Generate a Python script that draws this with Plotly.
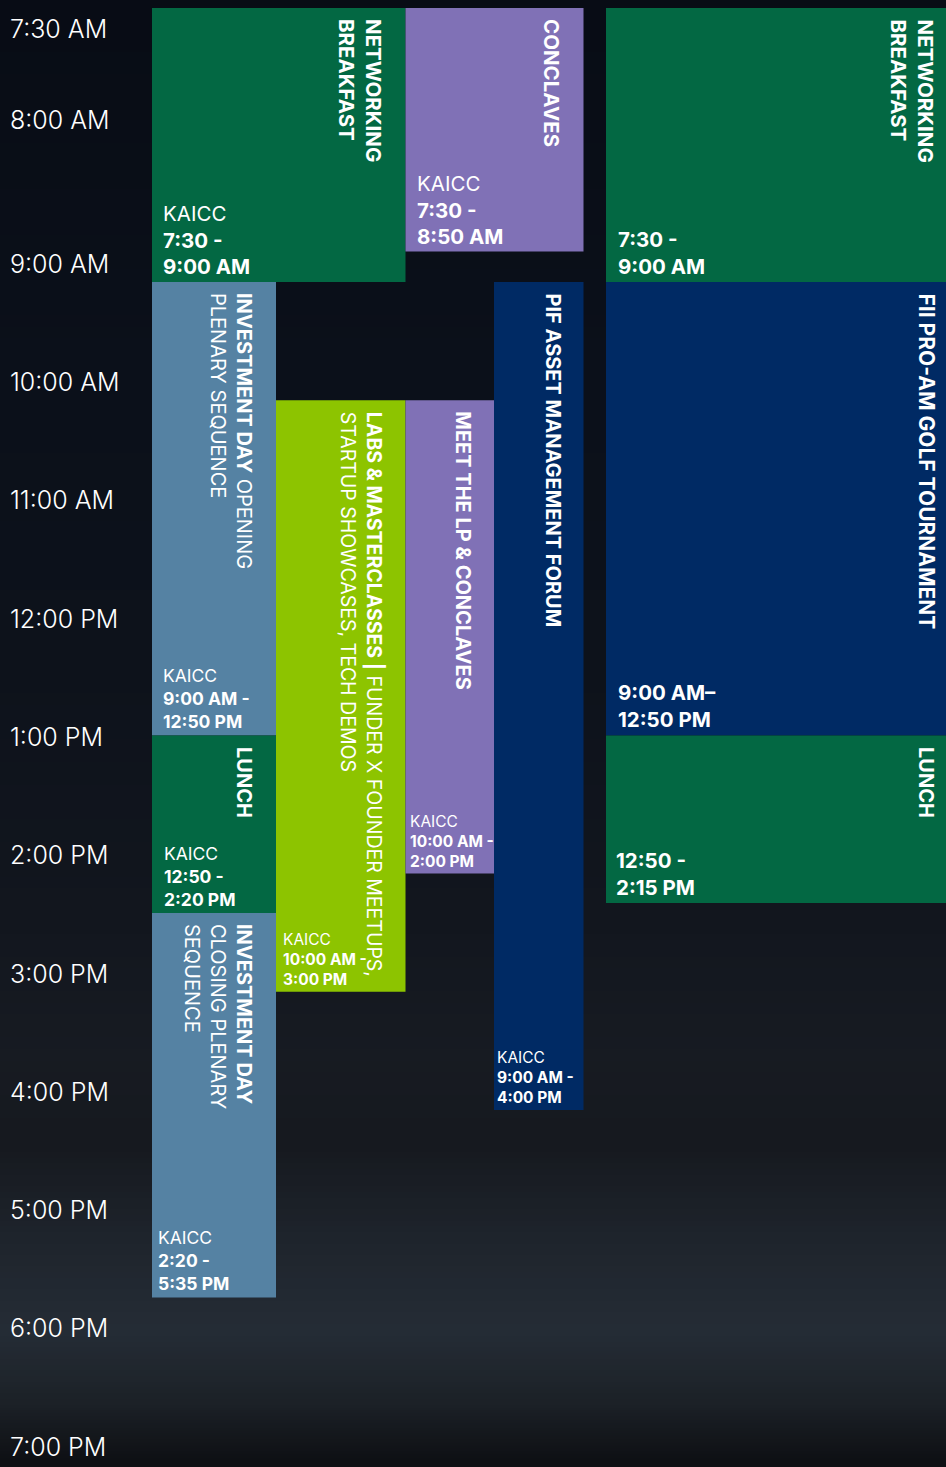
import base64
import struct
import zlib

import plotly.graph_objects as go

# ---------------- DATA ----------------
EVENT_NAMES = [
    "Networking Breakfast", "Conclaves", "Networking Breakfast (Golf)",
    "Investment Day Opening", "Lunch", "Investment Day Closing",
    "Labs & Masterclasses", "Meet the LP & Conclaves",
    "PIF Asset Management Forum", "FII Pro-Am Golf Tournament", "Lunch (Golf)",
]
TITLES = [
    "<b>NETWORKING<br>BREAKFAST</b>",
    "<b>CONCLAVES</b>",
    "<b>NETWORKING<br>BREAKFAST</b>",
    "<b>INVESTMENT DAY</b> OPENING<br>PLENARY SEQUENCE",
    "<b>LUNCH</b>",
    "<b>INVESTMENT DAY</b><br>CLOSING PLENARY<br>SEQUENCE",
    "<b>LABS & MASTERCLASSES |</b> FUNDER X FOUNDER MEETUPS,<br>STARTUP SHOWCASES, TECH DEMOS",
    "<b>MEET THE LP & CONCLAVES</b>",
    "<b>PIF ASSET MANAGEMENT FORUM</b>",
    "<b>FII PRO-AM GOLF TOURNAMENT</b>",
    "<b>LUNCH</b>",
]
TRACK_FIRST = [0, 2, 5, 0, 0, 0, 1, 2, 3, 5, 5]
TRACK_LAST = [1, 3, 5, 0, 0, 0, 1, 2, 3, 5, 5]
START = ["07:30", "07:30", "07:30", "09:00", "12:50", "14:20", "10:00", "10:00", "09:00", "09:00", "12:50"]
END = ["09:00", "08:50", "09:00", "12:50", "14:20", "17:35", "15:00", "14:00", "16:00", "12:50", "14:15"]
VENUE = ["KAICC", "KAICC", "", "KAICC", "KAICC", "KAICC", "KAICC", "KAICC", "KAICC", "", ""]
TIME_TEXT = [
    "7:30 -<br>9:00 AM", "7:30 -<br>8:50 AM", "7:30 -<br>9:00 AM",
    "9:00 AM -<br>12:50 PM", "12:50 -<br>2:20 PM", "2:20 -<br>5:35 PM",
    "10:00 AM -<br>3:00 PM", "10:00 AM -<br>2:00 PM", "9:00 AM -<br>4:00 PM",
    "9:00 AM–<br>12:50 PM", "12:50 -<br>2:15 PM",
]
KIND = ["meal", "conclave", "meal", "plenary", "meal", "plenary", "labs", "conclave", "forum", "forum", "meal"]

MORNING_TICKS = ["07:30", "08:00"]
MORNING_TICK_LABELS = ["7:30 AM", "8:00 AM"]
DAY_TICKS = ["09:00", "10:00", "11:00", "12:00", "13:00", "14:00", "15:00",
             "16:00", "17:00", "18:00", "19:00"]
DAY_TICK_LABELS = ["9:00 AM", "10:00 AM", "11:00 AM", "12:00 PM", "1:00 PM", "2:00 PM",
                   "3:00 PM", "4:00 PM", "5:00 PM", "6:00 PM", "7:00 PM"]

# ---------------- STYLE / LAYOUT ----------------
W, H = 946, 1467
KIND_COLORS = {"meal": "#036843", "conclave": "#8071B6", "plenary": "#5582A3",
               "labs": "#8DC400", "forum": "#002A64"}
TRACK_EDGES = [152, 276, 405.5, 494, 583.5, 606, 946]   # x-axis units (page px)
TITLE_SIZE = [20.5, 20.5, 20.5, 20, 20, 20, 19.5, 20, 20, 21, 20]
TIME_SIZE = [20.5, 20.5, 20.5, 17.5, 17.5, 17.5, 15.5, 15.5, 15.5, 20.5, 20.5]
TITLE_PAD = [17, 17, 6, 18, 18, 18, 18, 17, 17, 6, 6]
TEXT_INSET = [9, 9, 10, 9, 10, 4, 5, 2, 1, 10, 8]
FONT = "Inter, 'Open Sans', sans-serif"
MORNING_TOP_PX, SPLIT_PX = 8, 282
DAY_RANGE_END = "19:01"
SPLIT = "09:00"


def mins(t):
    h, m = t.split(":")
    return int(h) * 60 + int(m)


split_m = mins(SPLIT)


def bg_png():
    stops = [(0.00, (8, 12, 21)), (0.25, (11, 16, 26)), (0.45, (13, 18, 27)),
             (0.62, (18, 22, 30)), (0.72, (23, 27, 34)), (0.78, (22, 25, 31)),
             (0.85, (31, 37, 45)), (0.91, (37, 45, 54)), (0.96, (28, 33, 39)),
             (1.00, (14, 16, 20))]
    w, h = 4, 128
    rows = []
    for j in range(h):
        f = j / (h - 1)
        for k in range(len(stops) - 1):
            if stops[k][0] <= f <= stops[k + 1][0]:
                a, b = stops[k], stops[k + 1]
                t = (f - a[0]) / (b[0] - a[0])
                c = tuple(int(round(a[1][i] + (b[1][i] - a[1][i]) * t)) for i in range(3))
                break
        rows.append([c] * w)
    raw = b"".join(b"\x00" + bytes(v for px in row for v in px) for row in rows)

    def chunk(tag, data):
        return struct.pack(">I", len(data)) + tag + data + struct.pack(">I", zlib.crc32(tag + data) & 0xFFFFFFFF)

    png = (b"\x89PNG\r\n\x1a\n" + chunk(b"IHDR", struct.pack(">IIBBBBB", w, h, 8, 2, 0, 0, 0))
           + chunk(b"IDAT", zlib.compress(raw)) + chunk(b"IEND", b""))
    return "data:image/png;base64," + base64.b64encode(png).decode()


fig = go.Figure()
annotations = []
for part, yref in (("morning", "y"), ("day", "y2")):
    xs, ys, bases, widths, colors = [], [], [], [], []
    for i in range(len(EVENT_NAMES)):
        s, e = mins(START[i]), mins(END[i])
        if (s < split_m) != (part == "morning"):
            continue
        left, right = TRACK_EDGES[TRACK_FIRST[i]], TRACK_EDGES[TRACK_LAST[i] + 1]
        xs.append((left + right) / 2)
        widths.append(right - left)
        bases.append(s)
        ys.append(e - s)
        colors.append(KIND_COLORS[KIND[i]])
        annotations.append(dict(
            x=right, y=s, xref="x", yref=yref, xanchor="right", yanchor="top",
            textangle=90, xshift=-TITLE_PAD[i], yshift=-9, align="left",
            text=TITLES[i], showarrow=False,
            font=dict(family=FONT, size=TITLE_SIZE[i], color="white")))
        body = (VENUE[i] + "<br>" if VENUE[i] else "") + "<b>" + TIME_TEXT[i] + "</b>"
        annotations.append(dict(
            x=left, y=e, xref="x", yref=yref, xanchor="left", yanchor="bottom",
            xshift=TEXT_INSET[i], yshift=1, align="left", text=body, showarrow=False,
            font=dict(family=FONT, size=TIME_SIZE[i], color="white")))
    fig.add_trace(go.Bar(x=xs, y=ys, base=bases, width=widths, marker_color=colors,
                         marker_line_width=0, hoverinfo="skip", showlegend=False,
                         xaxis="x", yaxis=yref))

tick_font = dict(family=FONT, size=25, color="white", weight=300)
axis_common = dict(showgrid=False, zeroline=False, showline=False, ticks="",
                   ticklabelposition="inside", ticklabeloverflow="allow",
                   ticklabelstandoff=7, tickfont=tick_font, fixedrange=True,
                   automargin=False)

fig.update_layout(
    width=W, height=H, margin=dict(l=0, r=0, t=0, b=0, pad=0, autoexpand=False),
    paper_bgcolor="#0e131c", plot_bgcolor="rgba(0,0,0,0)",
    barmode="overlay", showlegend=False,
    xaxis=dict(range=[0, W], domain=[0, 1], visible=False, fixedrange=True, automargin=False),
    yaxis=dict(domain=[1 - SPLIT_PX / H, 1 - MORNING_TOP_PX / H],
               range=[split_m, mins(START[0])], anchor="x",
               tickvals=[mins(t) for t in MORNING_TICKS], ticktext=MORNING_TICK_LABELS,
               ticklabelshift=-21, **axis_common),
    yaxis2=dict(domain=[0, 1 - SPLIT_PX / H], range=[mins(DAY_RANGE_END), split_m], anchor="x",
                tickvals=[mins(t) for t in DAY_TICKS], ticktext=DAY_TICK_LABELS,
                ticklabelshift=18, **axis_common),
    annotations=annotations,
    images=[dict(source=bg_png(), xref="paper", yref="paper", x=0, y=1, sizex=1, sizey=1,
                 xanchor="left", yanchor="top", sizing="stretch", layer="below")],
)

fig.write_html("out.html", config={"displayModeBar": False},
               post_script="document.body.style.margin='0';document.body.style.background='#0e131c';")
